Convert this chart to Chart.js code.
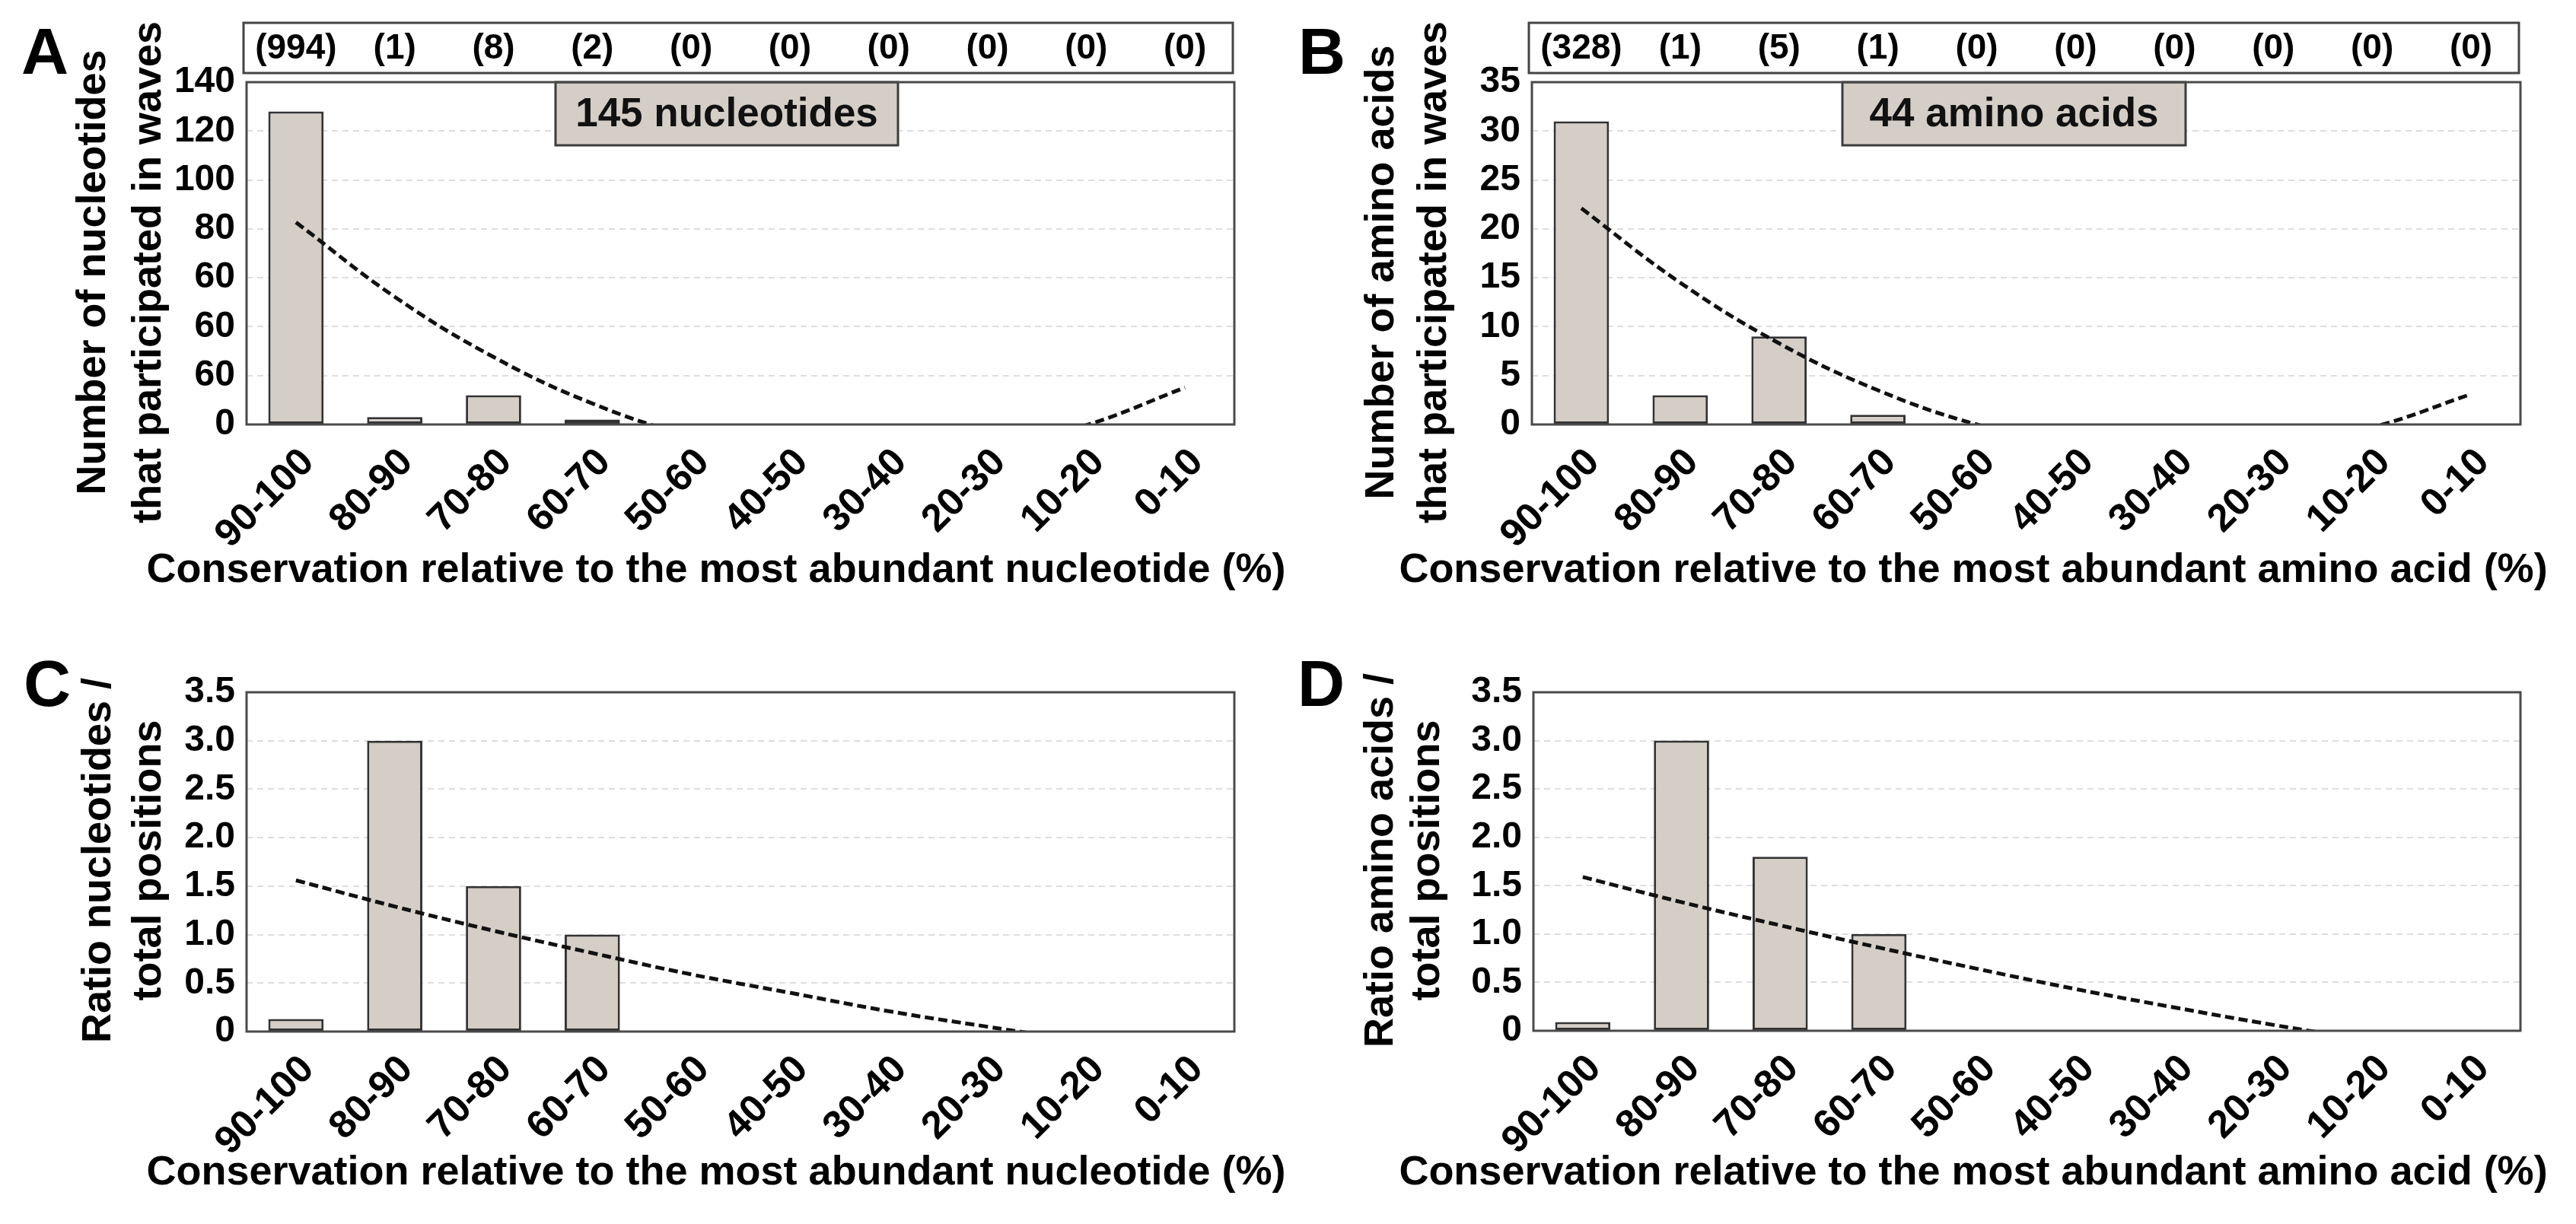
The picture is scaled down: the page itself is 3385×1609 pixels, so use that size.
<!DOCTYPE html>
<html lang="en">
<head>
<meta charset="UTF-8">
<title>Conservation of wave positions</title>
<script src="https://cdn.jsdelivr.net/npm/chart.js"></script>
<style>
  html, body { margin: 0; padding: 0; background: #fff; }
  #page { position: relative; width: 3385px; height: 1609px; overflow: hidden; }
  canvas { position: absolute; }
</style>
</head>
<body>
<div id="page">
  <canvas id="panelA" width="1692" height="800" style="left:0;top:0"></canvas>
  <canvas id="panelB" width="1693" height="800" style="left:1692px;top:0"></canvas>
  <canvas id="panelC" width="1692" height="809" style="left:0;top:800px"></canvas>
  <canvas id="panelD" width="1693" height="809" style="left:1692px;top:800px"></canvas>
</div>
<script>
// conservation bins, left to right
const categories = ['90-100', '80-90', '70-80', '60-70', '50-60', '40-50', '30-40', '20-30', '10-20', '0-10'];

// total positions per bin (numbers in brackets above A and B)
const ntPositions = [994, 1, 8, 2, 0, 0, 0, 0, 0, 0];
const aaPositions = [328, 1, 5, 1, 0, 0, 0, 0, 0, 0];

// residues that took part in waves
const ntCounts = [128, 3, 12, 2, 0, 0, 0, 0, 0, 0];
const aaCounts = [31, 3, 9, 1, 0, 0, 0, 0, 0, 0];

// ratio residues / total positions
const ntRatio = [0.13, 3.0, 1.5, 1.0, 0, 0, 0, 0, 0, 0];
const aaRatio = [0.09, 3.0, 1.8, 1.0, 0, 0, 0, 0, 0, 0];

// dashed trend curves read at each bin (below zero they are cut off by the axis)
const ntTrend = [82.7, 52.2, 27.6, 8.6, -4.7, -12.2, -14.0, -10.0, -0.3, 15.1];
const aaTrend = [22.1, 14.5, 8.3, 3.5, 0.0, -2.1, -2.9, -2.2, -0.3, 3.1];
const ntRatioTrend = [1.56, 1.29, 1.04, 0.81, 0.59, 0.40, 0.21, 0.05, -0.10, -0.23];
const aaRatioTrend = [1.59, 1.33, 1.09, 0.86, 0.64, 0.43, 0.24, 0.06, -0.10, -0.25];

// y tick labels as printed (A repeats "60")
const ntCountTicks = ['0', '60', '60', '60', '80', '100', '120', '140'];
const aaCountTicks = ['0', '5', '10', '15', '20', '25', '30', '35'];
const ratioTicks = ['0', '0.5', '1.0', '1.5', '2.0', '2.5', '3.0', '3.5'];

const barFill = '#d4cec7';
const FONT = '"Liberation Sans", Arial, sans-serif';
Chart.defaults.font.family = FONT;
Chart.defaults.color = '#000';

const panelDecor = {
  id: 'panelDecor',
  afterDatasetsDraw(chart, args, o) {
    const ctx = chart.ctx, a = chart.chartArea;
    ctx.save();
    if (o.note) {
      const n = o.note;
      ctx.fillStyle = barFill;
      ctx.fillRect(n.x, a.top, n.w, n.h);
      ctx.strokeStyle = '#3c3c3c';
      ctx.lineWidth = 3;
      ctx.strokeRect(n.x, a.top, n.w, n.h);
      ctx.fillStyle = '#111';
      ctx.font = 'bold 53px ' + FONT;
      ctx.textAlign = 'center';
      ctx.textBaseline = 'middle';
      ctx.fillText(n.text, n.x + n.w / 2, a.top + n.h / 2 + 2);
    }
    // frame round the plot
    ctx.strokeStyle = '#4a4a4a';
    ctx.lineWidth = 3;
    ctx.strokeRect(a.left, a.top, a.right - a.left, a.bottom - a.top);
    ctx.restore();
  },
  afterDraw(chart, args, o) {
    const ctx = chart.ctx, a = chart.chartArea, xs = chart.scales.x;
    ctx.save();
    ctx.fillStyle = '#000';

    // panel letter
    ctx.font = 'bold 86px ' + FONT;
    ctx.textAlign = 'left';
    ctx.textBaseline = 'alphabetic';
    ctx.fillText(o.letter, o.letterX, o.letterY);

    // two-line y title
    ctx.font = 'bold 54px ' + FONT;
    ctx.textAlign = 'center';
    ctx.textBaseline = 'middle';
    o.yTitle.forEach((line, i) => {
      ctx.save();
      ctx.translate(a.left - o.yTitleOffsets[i], o.yTitleY);
      ctx.rotate(-Math.PI / 2);
      ctx.fillText(line, 0, 0);
      ctx.restore();
    });

    // x title
    ctx.fillText(o.xTitle, o.xTitleX, o.xTitleY);

    // box of position counts above the plot
    if (o.counts) {
      ctx.strokeStyle = '#444';
      ctx.lineWidth = 3;
      ctx.strokeRect(a.left - 4, 30, a.right - a.left + 2, 66);
      ctx.font = 'bold 46px ' + FONT;
      o.counts.forEach((c, i) => {
        ctx.fillText('(' + c + ')', xs.getPixelForValue(i), 64);
      });
    }
    ctx.restore();
  }
};

function makePanel(id, p) {
  new Chart(document.getElementById(id), {
    type: 'bar',
    data: {
      labels: categories,
      datasets: [
        {
          type: 'line',
          data: p.trend,
          borderColor: '#111',
          borderWidth: 5,
          borderDash: [12, 6],
          pointRadius: 0,
          tension: 0.4,
          fill: false,
          order: 0
        },
        {
          data: p.values,
          backgroundColor: barFill,
          borderColor: '#333',
          borderWidth: 3,
          borderSkipped: false,
          barPercentage: 0.56,
          categoryPercentage: 1,
          order: 1
        }
      ]
    },
    options: {
      responsive: false,
      animation: false,
      devicePixelRatio: 1,
      elements: { line: { capBezierPoints: false } },
      layout: { padding: { left: 0, top: p.top, right: p.right, bottom: 0 } },
      plugins: {
        legend: { display: false },
        tooltip: { enabled: false },
        panelDecor: p.decor
      },
      scales: {
        x: {
          grid: { display: false },
          border: { display: false },
          ticks: {
            autoSkip: false, maxRotation: 45, minRotation: 45, padding: 12, labelOffset: 16,
            color: '#000', font: { size: 51, weight: 'bold' }
          },
          afterFit: s => { s.height = p.xh; }
        },
        y: {
          min: 0,
          max: p.max,
          grid: { color: '#dedede', lineWidth: 2, drawTicks: false },
          border: { display: false, dash: [8, 6] },
          ticks: {
            stepSize: p.step, padding: 15, color: '#000',
            font: { size: 48, weight: 'bold' },
            callback: (v, i) => p.tickLabels[i]
          },
          afterFit: s => { s.width = p.yw; }
        }
      }
    },
    plugins: [panelDecor]
  });
}

makePanel('panelA', {
  values: ntCounts, trend: ntTrend, max: 140, step: 20, tickLabels: ntCountTicks,
  top: 108, right: 70, xh: 242, yw: 324,
  decor: {
    letter: 'A', letterX: 28, letterY: 97,
    yTitle: ['Number of nucleotides', 'that participated in waves'], yTitleOffsets: [201, 128], yTitleY: 358,
    xTitle: 'Conservation relative to the most abundant nucleotide (%)', xTitleX: 941, xTitleY: 750,
    counts: ntPositions,
    note: { text: '145 nucleotides', x: 730, w: 450, h: 83 }
  }
});

makePanel('panelB', {
  values: aaCounts, trend: aaTrend, max: 35, step: 5, tickLabels: aaCountTicks,
  top: 108, right: 73, xh: 242, yw: 321,
  decor: {
    letter: 'B', letterX: 14, letterY: 97,
    yTitle: ['Number of amino acids', 'that participated in waves'], yTitleOffsets: [197, 128], yTitleY: 358,
    xTitle: 'Conservation relative to the most abundant amino acid (%)', xTitleX: 901, xTitleY: 750,
    counts: aaPositions,
    note: { text: '44 amino acids', x: 729, w: 451, h: 83 }
  }
});

makePanel('panelC', {
  values: ntRatio, trend: ntRatioTrend, max: 3.5, step: 0.5, tickLabels: ratioTicks,
  top: 110, right: 70, xh: 253, yw: 324,
  decor: {
    letter: 'C', letterX: 31, letterY: 128,
    yTitle: ['Ratio nucleotides /', 'total positions'], yTitleOffsets: [194, 128], yTitleY: 331,
    xTitle: 'Conservation relative to the most abundant nucleotide (%)', xTitleX: 941, xTitleY: 742
  }
});

makePanel('panelD', {
  values: aaRatio, trend: aaRatioTrend, max: 3.5, step: 0.5, tickLabels: ratioTicks,
  top: 110, right: 73, xh: 254, yw: 323,
  decor: {
    letter: 'D', letterX: 13, letterY: 128,
    yTitle: ['Ratio amino acids /', 'total positions'], yTitleOffsets: [200, 139], yTitleY: 331,
    xTitle: 'Conservation relative to the most abundant amino acid (%)', xTitleX: 901, xTitleY: 742
  }
});
</script>
</body>
</html>
